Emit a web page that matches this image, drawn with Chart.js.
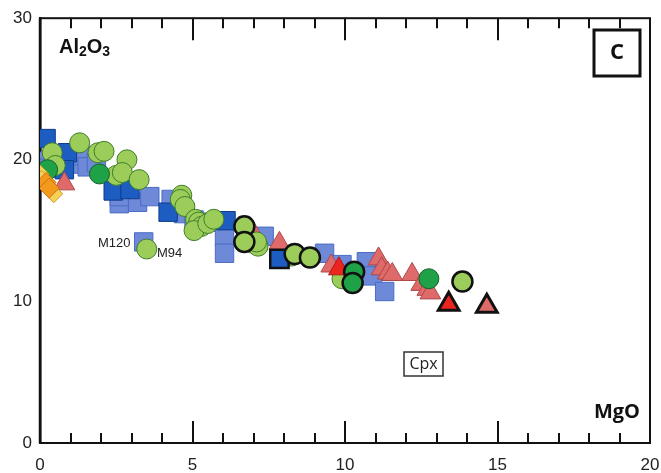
<!DOCTYPE html>
<html>
<head>
<meta charset="utf-8">
<script src="https://cdn.jsdelivr.net/npm/chart.js@4.4.0/dist/chart.umd.min.js"></script>
<style>
  html, body { margin: 0; padding: 0; background: #fff; overflow: hidden; }
  #wrap { width: 661px; height: 473px; }
  canvas { display: block; }
</style>
</head>
<body>
<div id="wrap"><canvas id="myChart" width="661" height="473"></canvas></div>
<script>
// data (MgO, Al2O3)
let lightBlueSq = [[0.1,19.9],[0.3,19.4],[1.05,19.7],[1.4,20.3],[1.55,19.5],[1.85,19.8],[2.6,16.9],[2.6,17.4],
  [3.2,17.0],[3.6,17.4],[4.3,17.2],[4.7,16.2],[5.05,15.75],[5.5,15.6],[6.05,14.6],[6.05,13.4],[7.35,14.6],
  [9.33,13.4],[9.9,12.6],[10.7,12.8],[10.9,11.8],[11.3,10.7],[3.4,14.2]];
let darkBlueSq = [[0.2,21.5],[0.9,20.5],[0.8,19.3],[2.4,17.8],[2.95,17.9],[4.2,16.3],[6.1,15.7]];
let darkBlueSqBold = [[7.85,13.0]];
let lightGreen = [[0.4,20.5],[0.5,19.6],[1.3,21.2],[1.9,20.5],[2.1,20.6],[2.85,20.0],[2.5,18.9],[2.7,19.1],
  [3.25,18.6],[4.65,17.5],[4.6,17.2],[4.75,16.7],[5.1,15.8],[5.2,15.6],[5.3,15.3],[5.05,15.0],[5.5,15.5],
  [5.7,15.8],[7.0,14.1],[7.15,13.9],[7.1,14.2],[8.25,13.2],[9.9,11.6],[3.5,13.7]];
let lightGreenBold = [[6.7,15.3],[6.7,14.2],[8.35,13.35],[8.85,13.1],[13.85,11.4]];
let darkGreen = [[0.25,19.3],[1.95,19.0],[12.75,11.6]];
let darkGreenBold = [[10.3,12.1],[10.25,11.3]];
let salmonTri = [[0.8,18.3],[7.0,14.8],[7.85,14.1],[9.55,12.5],[11.1,13.0],[11.2,12.3],[11.4,12.0],[11.55,11.9],
  [12.2,11.9],[12.5,11.2],[12.7,10.85],[12.8,10.6]];
let salmonTriBold = [[14.65,9.65]];
let redTri = [[9.8,12.3]];
let redTriBold = [[13.4,9.8]];
let orangeDia = [[0.2,18.4],[0.3,18.0]];
let yellowDia = [[0.0,19.0],[0.45,17.6],[0.05,18.6]];

let xTicks = [0, 5, 10, 15, 20];
let yTicks = [0, 10, 20, 30];

function pts(arr) {
  return arr.map(p => ({x: p[0], y: p[1]}));
}

function ds(arr, style, fill, border, bw, r) {
  return {
    data: pts(arr),
    pointStyle: style,
    backgroundColor: fill,
    borderColor: border,
    borderWidth: bw,
    pointRadius: r,
    pointHoverRadius: r
  };
}

// first dataset is drawn on top
let datasets = [
  ds(redTriBold, 'triangle', '#ec2420', '#111', 3, 12),
  ds(salmonTriBold, 'triangle', '#de6a6a', '#111', 3, 12),
  ds(lightGreenBold, 'circle', '#9ccd5a', '#111', 2.5, 10),
  ds(darkGreenBold, 'circle', '#1fa247', '#111', 2.5, 10),
  ds(darkBlueSqBold, 'rect', '#1d5cc0', '#111', 2.5, 13),
  ds(redTri, 'triangle', '#ec2420', '#b01818', 1, 12),
  ds(orangeDia, 'rectRot', '#f39a1c', '#c87410', 1, 10),
  ds(yellowDia, 'rectRot', '#f6d155', '#c8a030', 1, 9),
  ds(darkGreen, 'circle', '#1fa247', '#16622c', 1, 10),
  ds(lightGreen, 'circle', '#9ccd5a', '#3f7d2a', 1, 10),
  ds(salmonTri, 'triangle', '#de6a6a', '#b04848', 1, 12),
  ds(darkBlueSq, 'rect', '#1d5cc0', '#0f3d8c', 1, 13),
  ds(lightBlueSq, 'rect', '#6d89d7', '#4a6cc6', 1, 13)
];

// inward ticks, box frame and text labels
const decor = {
  id: 'decor',
  afterLayout(chart) {
    // push the plot's right edge out to x = 650 like the reference
    const xs = chart.scales.x;
    const a = chart.chartArea;
    const r = 650;
    a.right = r;
    a.width = r - a.left;
    xs.right = r;
    xs.width = r - xs.left;
    xs.configure();
  },
  beforeDatasetsDraw(chart) {
    const c = chart.ctx;
    const a = chart.chartArea;
    const xs = chart.scales.x;
    c.save();
    c.strokeStyle = '#111';
    c.lineWidth = 2;
    c.strokeRect(a.left, a.top, a.right - a.left, a.bottom - a.top);
    for (let v = 1; v < 20; v++) {
      let px = Math.round(xs.getPixelForValue(v));
      let len = v % 5 === 0 ? 22 : 10;
      c.beginPath();
      c.moveTo(px, a.bottom); c.lineTo(px, a.bottom - len);
      c.moveTo(px, a.top); c.lineTo(px, a.top + len);
      c.stroke();
    }
    c.lineWidth = 2.5;
    c.beginPath();
    c.moveTo(a.left, a.top); c.lineTo(a.left, a.bottom);
    c.stroke();
    c.restore();
  },
  afterDraw(chart) {
    const c = chart.ctx;
    c.save();
    c.fillStyle = '#111';
    c.textBaseline = 'alphabetic';
    // Al2O3
    c.font = 'bold 20px "Liberation Sans", Arial, sans-serif';
    c.fillText('Al', 59, 53);
    let w = c.measureText('Al').width;
    c.font = 'bold 14px "Liberation Sans", Arial, sans-serif';
    c.fillText('2', 59 + w, 56);
    let w2 = c.measureText('2').width;
    c.font = 'bold 20px "Liberation Sans", Arial, sans-serif';
    c.fillText('O', 59 + w + w2, 53);
    let w3 = c.measureText('O').width;
    c.font = 'bold 14px "Liberation Sans", Arial, sans-serif';
    c.fillText('3', 59 + w + w2 + w3, 56);
    // MgO
    c.font = 'bold 20px "Open Sans", "Liberation Sans", sans-serif';
    c.textAlign = 'right';
    c.fillText('MgO', 640, 418);
    // C box
    c.lineWidth = 3;
    c.strokeStyle = '#111';
    c.strokeRect(594, 30, 46, 46);
    c.textAlign = 'center';
    c.textBaseline = 'middle';
    c.font = 'bold 22px "Open Sans", "Liberation Sans", sans-serif';
    c.fillText('C', 617, 53);
    // Cpx box
    c.fillStyle = '#fff';
    c.fillRect(404, 352, 39, 24);
    c.lineWidth = 1.5;
    c.strokeStyle = '#333';
    c.strokeRect(404, 352, 39, 24);
    c.fillStyle = '#222';
    c.font = '16px "Open Sans", "Liberation Sans", sans-serif';
    c.fillText('Cpx', 423.5, 364);
    // sample names
    c.font = '13px "Liberation Sans", Arial, sans-serif';
    c.textAlign = 'left';
    c.fillText('M120', 98, 243);
    c.fillText('M94', 157, 253);
    c.restore();
  }
};

let ctx = document.getElementById('myChart').getContext('2d');
let myChart = new Chart(ctx, {
  type: 'scatter',
  data: { datasets: datasets },
  options: {
    responsive: false,
    animation: false,
    events: [],
    layout: { padding: { left: 0, right: 0, top: 15, bottom: 0 } },
    plugins: {
      legend: { display: false },
      tooltip: { enabled: false }
    },
    scales: {
      x: {
        type: 'linear',
        min: 0,
        max: 20,
        afterFit: (s) => { s.height = 30; },
        afterBuildTicks: (s) => { s.ticks = xTicks.map(v => ({value: v})); },
        grid: { display: false, drawTicks: false },
        border: { display: true, color: '#111', width: 2 },
        ticks: { color: '#222', padding: 12, font: { size: 17, family: '"Liberation Sans", Arial, sans-serif' } }
      },
      y: {
        type: 'linear',
        min: 0,
        max: 30,
        afterFit: (s) => { s.width = 40; },
        afterBuildTicks: (s) => { s.ticks = yTicks.map(v => ({value: v})); },
        grid: { display: false, drawTicks: false },
        border: { display: true, color: '#111', width: 2.5 },
        ticks: { color: '#222', padding: 8, font: { size: 17, family: '"Liberation Sans", Arial, sans-serif' } }
      }
    }
  },
  plugins: [decor]
});
</script>
</body>
</html>
